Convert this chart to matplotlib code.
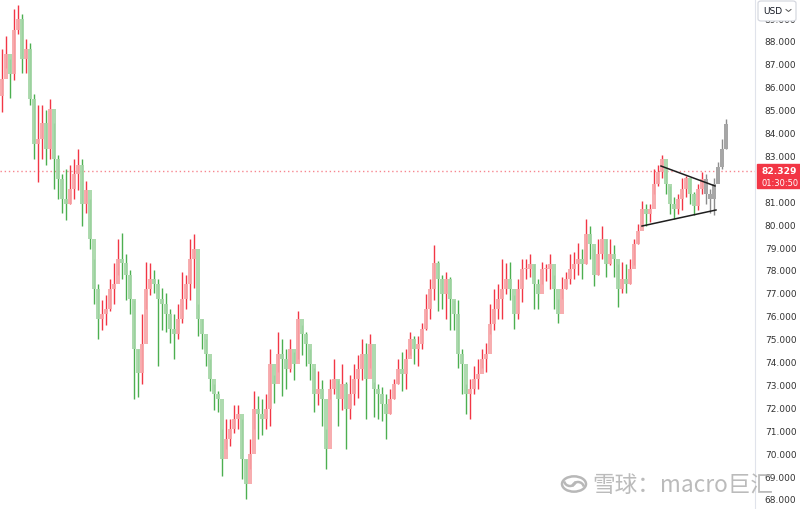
import numpy as np
import matplotlib
matplotlib.use("Agg")
import matplotlib.pyplot as plt
from matplotlib.patches import Rectangle, FancyBboxPatch, Circle, Arc

plt.rcParams['font.family'] = ['DejaVu Sans']

# candle data (one candle per step)
first_open = 85.6
closes = [86.34, 87.43, 86.55, 88.5, 88.96, 87.2, 87.65, 85.47, 83.5, 83.7,
          84.4, 83.28, 85.03, 82.85, 81.97, 81.1, 80.9, 81.54, 82.2, 82.6,
          80.9, 81.5, 79.35, 77.17, 75.86, 76.1, 76.3, 77.17, 77.4, 78.48,
          78.3, 77.8, 76.73, 74.55, 73.5, 74.77, 77.17, 77.6, 77.4, 76.73,
          76.5, 76.1, 75.42, 75.2, 75.86, 76.73, 77.4, 78.48, 78.92, 75.86,
          75.2, 74.33, 73.24, 72.6, 72.37, 69.75, 70.62, 71.06, 71.5, 71.7,
          69.75, 68.65, 69.97, 71.93, 71.7, 71.5, 71.93, 73.9, 73.0, 74.33,
          74.1, 73.68, 74.55, 73.9, 75.86, 75.2, 74.77, 73.9, 72.6, 72.8,
          72.37, 70.18, 72.8, 73.24, 72.37, 73.0, 71.93, 72.6, 73.24, 73.68,
          74.33, 73.24, 74.77, 72.8, 72.6, 72.15, 71.7, 72.37, 73.0, 73.68,
          73.46, 74.11, 74.99, 74.55, 74.77, 75.42, 76.3, 77.17, 78.3, 77.6,
          76.95, 77.6, 76.73, 76.1, 74.33, 73.9, 72.6, 72.8, 73.24, 73.46,
          74.11, 74.33, 75.64, 76.3, 76.73, 77.17, 77.6, 77.17, 76.1, 77.17,
          78.04, 78.04, 78.26, 77.4, 76.95, 78.04, 78.04, 78.26, 77.17, 76.1,
          77.17, 77.6, 78.04, 78.26, 78.48, 78.26, 79.57, 79.13, 77.8, 78.7,
          79.35, 78.26, 78.7, 78.48, 77.17, 77.6, 77.4, 78.04, 79.13, 79.7,
          80.66, 80.45, 80.66, 81.75, 82.3, 82.85, 81.75, 80.9, 80.66, 81.1,
          81.54, 82.0, 81.3, 80.8, 81.54, 81.97]
highs = [87.65, 88.2, 87.2, 89.4, 89.57, 89.2, 88.1, 87.9, 85.7, 85.2,
         85.2, 85.0, 85.47, 84.4, 83.0, 82.2, 82.4, 82.6, 82.85, 83.3,
         82.85, 81.9, 81.1, 78.5, 77.4, 76.7, 76.9, 77.6, 78.3, 79.35,
         79.6, 78.7, 78.0, 76.7, 74.55, 76.1, 78.35, 78.3, 78.0, 77.6,
         77.2, 77.0, 76.3, 76.1, 76.5, 77.9, 77.8, 79.35, 79.57, 76.5,
         75.86, 75.0, 74.1, 73.0, 72.7, 71.06, 71.5, 71.5, 72.1, 72.1,
         71.5, 69.75, 70.6, 72.7, 72.5, 72.37, 72.6, 74.55, 73.4, 75.3,
         75.0, 74.55, 75.0, 74.4, 76.2, 75.6, 75.3, 74.55, 73.7, 73.6,
         73.2, 71.06, 73.24, 74.1, 73.2, 73.9, 73.1, 73.4, 73.9, 74.3,
         75.0, 74.8, 75.2, 73.1, 73.0, 72.9, 72.6, 72.8, 73.24, 74.1,
         74.4, 74.55, 75.3, 75.1, 75.1, 75.7, 76.95, 77.6, 79.1, 78.4,
         77.8, 77.9, 77.7, 76.7, 76.7, 74.55, 73.0, 73.24, 73.8, 74.1,
         74.55, 74.8, 76.5, 77.17, 77.4, 78.48, 78.3, 78.35, 76.9, 77.6,
         78.48, 78.48, 78.7, 78.26, 77.6, 78.35, 78.26, 78.7, 77.8, 76.73,
         77.7, 77.9, 78.7, 78.8, 79.2, 78.9, 80.23, 79.9, 78.9, 79.35,
         79.9, 79.35, 79.35, 79.1, 78.26, 78.35, 78.26, 78.48, 79.35, 80.0,
         81.0, 80.9, 80.9, 82.41, 82.6, 83.0, 82.41, 81.67, 81.2, 81.3,
         82.0, 82.1, 82.0, 81.4, 81.75, 82.3]
lows = [84.9, 86.8, 85.5, 86.3, 88.3, 86.6, 86.6, 85.2, 82.85, 81.84,
        82.85, 82.6, 82.85, 81.54, 81.1, 80.5, 80.2, 80.9, 81.1, 81.5,
        79.9, 80.5, 78.9, 76.5, 75.0, 75.4, 75.6, 76.2, 76.5, 77.8,
        77.6, 76.7, 76.1, 72.37, 72.45, 73.0, 76.3, 76.9, 77.0, 73.8,
        75.4, 75.3, 74.8, 74.1, 75.0, 75.7, 76.3, 76.7, 77.2, 75.1,
        74.55, 73.8, 72.7, 71.9, 71.8, 69.0, 70.2, 70.3, 70.9, 71.06,
        68.87, 68.0, 69.3, 71.06, 70.6, 70.8, 71.06, 71.2, 72.2, 73.55,
        72.5, 72.8, 73.55, 73.2, 74.1, 74.3, 73.8, 73.2, 71.8, 72.1,
        71.2, 69.3, 72.37, 72.6, 71.2, 71.9, 70.18, 71.5, 72.1, 72.4,
        73.2, 71.5, 73.7, 71.6, 71.5, 71.4, 70.6, 71.7, 72.37, 73.0,
        72.7, 72.8, 74.3, 73.9, 73.8, 74.55, 75.4, 75.86, 76.7, 76.2,
        76.3, 75.86, 75.4, 75.4, 73.7, 72.6, 71.7, 71.5, 72.6, 72.8,
        73.7, 73.55, 75.2, 75.4, 75.86, 75.86, 76.95, 76.7, 75.42, 75.86,
        76.6, 77.6, 77.7, 76.3, 76.3, 77.4, 77.5, 77.17, 76.3, 75.7,
        76.73, 77.17, 77.4, 77.6, 77.8, 77.6, 78.26, 78.48, 77.3, 77.8,
        78.48, 77.7, 78.2, 77.7, 76.4, 77.0, 77.0, 77.4, 78.2, 79.13,
        79.9, 79.9, 80.1, 81.3, 81.67, 82.0, 81.3, 80.45, 80.23, 80.45,
        80.6, 81.2, 80.9, 80.4, 80.6, 81.3]

# grey candles at the end (current, still forming)
grey_closes = [81.3, 81.1, 81.75, 82.5, 83.28, 84.37]
grey_highs = [82.2, 81.54, 82.0, 82.7, 83.7, 84.6]
grey_lows = [80.9, 80.5, 80.4, 82.2, 82.4, 83.28]

last_price = 82.329
countdown = "01:30:50"
price_ticks = [68, 69, 70, 71, 72, 73, 74, 75, 76, 77, 78, 79, 80, 81, 82, 83, 84, 85, 86, 87, 88, 89]

# triangle drawn on the chart: (candle index, price)
upper_line = [(164.75, 82.54), (178.25, 81.67)]
lower_line = [(160.0, 79.92), (178.5, 80.62)]

fig = plt.figure(figsize=(8, 5.1), dpi=100)
fig.patch.set_facecolor('white')
ax = fig.add_axes([0, 0, 755 / 800, 1])

opens = [first_open] + closes[:-1]
n = len(closes)
up_c, dn_c = '#f23645', '#4caf50'
up_l, dn_l = '#f7a5a8', '#a5d6a7'
for i in range(n):
    o, c = opens[i], closes[i]
    up = c >= o
    ax.vlines(i, lows[i], highs[i], color=up_c if up else dn_c, lw=1.0, zorder=2)
    ax.bar(i, max(abs(c - o), 0.03), bottom=min(o, c), width=0.8,
           color=up_l if up else dn_l, alpha=0.9, zorder=3, linewidth=0)

g_open = [closes[-1]] + grey_closes[:-1]
for k in range(len(grey_closes)):
    i = n + k
    ax.vlines(i, grey_lows[k], grey_highs[k], color='#8c8c8c', lw=1.0, zorder=2)
    ax.bar(i, max(abs(grey_closes[k] - g_open[k]), 0.03), bottom=min(g_open[k], grey_closes[k]),
           width=0.8, color='#a6a6a6', zorder=3, linewidth=0)

for line in (upper_line, lower_line):
    ax.plot([p[0] for p in line], [p[1] for p in line], color='#1e1e1e', lw=1.1, zorder=4)

ax.axhline(last_price, color='#f23645', lw=1, ls=(0, (1, 2)), alpha=0.6, zorder=1)

ax.set_xlim(-0.5, 188.25)
ax.set_ylim(67.563, 89.834)
for s in ['top', 'left', 'bottom']:
    ax.spines[s].set_visible(False)
ax.spines['right'].set_color('#e0e3eb')
ax.set_xticks([])
ax.yaxis.tick_right()
ax.set_yticks(price_ticks)
ax.set_yticklabels(['%.3f' % t for t in price_ticks])
ax.tick_params(axis='y', length=0, pad=7, labelsize=6.5, labelcolor='#333333')

# last price tag
fig.patches.append(Rectangle((757 / 800, 1 - 189 / 510), 43 / 800, 24 / 510,
                             transform=fig.transFigure, color='#f23645', zorder=5))
fig.text(761 / 800, 1 - 172 / 510, '%.3f' % last_price, color='white', fontsize=6.6,
         fontweight='bold', va='center', ha='left', zorder=6)
fig.text(761 / 800, 1 - 183 / 510, countdown, color='white', fontsize=6.0,
         va='center', ha='left', zorder=6)

# currency box
fig.patches.append(FancyBboxPatch((758 / 800, 1 - 22 / 510), 38 / 800, 20 / 510,
                                  boxstyle='round,pad=0,rounding_size=0.004',
                                  transform=fig.transFigure, facecolor='white',
                                  edgecolor='#d1d4dc', lw=0.8, zorder=5))
fig.text(763 / 800, 1 - 11.5 / 510, 'USD', fontsize=6.5, color='#131722', va='center', zorder=6)
fig.lines.append(plt.Line2D([786 / 800, 788.5 / 800, 791 / 800],
                            [1 - 10.5 / 510, 1 - 12.5 / 510, 1 - 10.5 / 510],
                            transform=fig.transFigure, color='#555555', lw=0.7, zorder=6))

# watermark
wm = '#b8b8b8'
cx, cy = 574 / 800, 1 - 485 / 510
fig.patches.append(Circle((cx, cy), 12 / 800, transform=fig.transFigure,
                          fill=False, edgecolor=wm, lw=1.8, zorder=7))
fig.patches.append(Arc((cx - 4 / 800, cy + 4 / 510), 12 / 800, 12 / 510, theta1=200, theta2=340,
                       transform=fig.transFigure, edgecolor=wm, lw=1.8, zorder=7))
fig.patches.append(Arc((cx + 4 / 800, cy - 4 / 510), 12 / 800, 12 / 510, theta1=20, theta2=160,
                       transform=fig.transFigure, edgecolor=wm, lw=1.8, zorder=7))
fig.text(592 / 800, 1 - 485 / 510, '雪球：macro巨汇', fontsize=16.3, color='#b0b0b0', alpha=0.85,
         family=['Noto Sans CJK SC', 'DejaVu Sans'], ha='left', va='center', zorder=7)

fig.savefig('out.png', dpi=100, facecolor='white')
